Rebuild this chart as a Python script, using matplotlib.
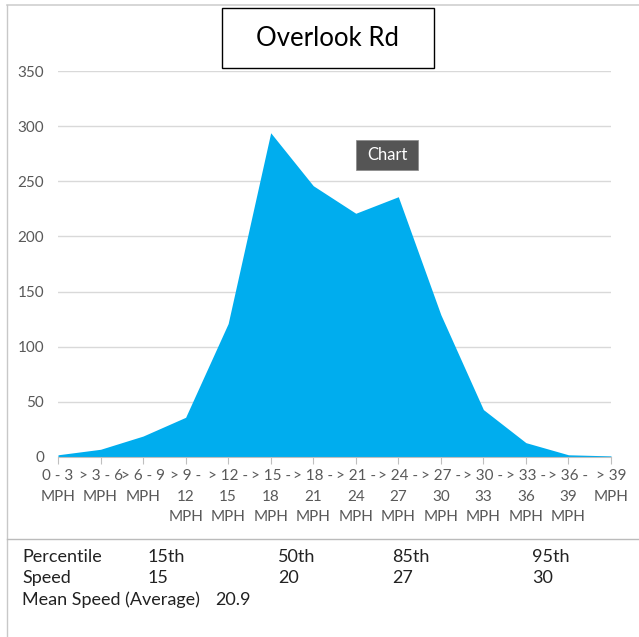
import matplotlib
matplotlib.use("Agg")
import matplotlib.pyplot as plt
from matplotlib.patches import Rectangle
from matplotlib.lines import Line2D

plt.rcParams['font.family'] = ['Lato', 'DejaVu Sans']

categories = ["0 - 3\nMPH", "> 3 - 6\nMPH", "> 6 - 9\nMPH", "> 9 -\n12\nMPH",
              "> 12 -\n15\nMPH", "> 15 -\n18\nMPH", "> 18 -\n21\nMPH", "> 21 -\n24\nMPH",
              "> 24 -\n27\nMPH", "> 27 -\n30\nMPH", "> 30 -\n33\nMPH", "> 33 -\n36\nMPH",
              "> 36 -\n39\nMPH", "> 39\nMPH"]
counts = [2, 7, 19, 36, 121, 294, 246, 221, 236, 129, 43, 13, 2, 1]
yticks = [0, 50, 100, 150, 200, 250, 300, 350]
title = "Overlook Rd"
percentiles = ["15th", "50th", "85th", "95th"]
speeds = ["15", "20", "27", "30"]
mean_speed = "20.9"

W, H = 639, 637
fig = plt.figure(figsize=(W / 100, H / 100), dpi=100)

def fx(px):
    return px / W

def fy(py):
    return 1 - py / H

ax = fig.add_axes([fx(58), fy(457), fx(611) - fx(58), fy(71) - fy(457)])
x = list(range(len(categories)))
ax.fill_between(x, counts, 0, color="#00ADEE", linewidth=0)
ax.set_xlim(0, len(categories) - 1)
ax.set_ylim(0, 350)
ax.set_yticks(yticks)
ax.set_yticklabels([str(v) for v in yticks], color="#595959", fontsize=11)
ax.yaxis.grid(True, color="#D9D9D9", linewidth=1)
ax.set_axisbelow(True)
ax.tick_params(axis='y', length=0, pad=10)
ax.set_xticks(x)
ax.set_xticklabels(categories, color="#595959", fontsize=11, linespacing=1.55, va='top')
ax.tick_params(axis='x', length=5, color="#BFBFBF", pad=4)
for s in ["top", "right", "left"]:
    ax.spines[s].set_visible(False)
ax.spines["bottom"].set_color("#BFBFBF")

# Frame lines
fig.add_artist(Line2D([fx(7), 1], [fy(5), fy(5)], color="#D0D0D0", lw=1.2))
fig.add_artist(Line2D([fx(7), fx(7)], [fy(5), 0], color="#C8C8C8", lw=1.0))
fig.add_artist(Line2D([fx(7), 1], [fy(539), fy(539)], color="#BBBBBB", lw=1.0))

# Title box
fig.add_artist(Rectangle((fx(222), fy(68)), fx(434) - fx(222), fy(8) - fy(68),
                         transform=fig.transFigure, facecolor="white",
                         edgecolor="black", lw=1.0))
fig.text(fx(328), fy(38), title, ha='center', va='center', fontsize=18.5, color="black")

# Tooltip
fig.add_artist(Rectangle((fx(356), fy(170)), fx(418) - fx(356), fy(140) - fy(170),
                         transform=fig.transFigure, facecolor="#555555",
                         edgecolor="#888888", lw=0.5))
fig.text(fx(387), fy(155), "Chart", ha='center', va='center', fontsize=12, color="white")

# Table
tc = "#222222"
fs = 13
fig.text(fx(22), fy(557), "Percentile", ha='left', va='center', fontsize=fs, color=tc)
fig.text(fx(22), fy(578), "Speed", ha='left', va='center', fontsize=fs, color=tc)
fig.text(fx(22), fy(600), "Mean Speed (Average)", ha='left', va='center', fontsize=fs, color=tc)
cols = [148, 278, 392, 532]
for cx, p, s in zip(cols, percentiles, speeds):
    fig.text(fx(cx), fy(557), p, ha='left', va='center', fontsize=fs, color=tc)
    fig.text(fx(cx), fy(578), s, ha='left', va='center', fontsize=fs, color=tc)
fig.text(fx(215), fy(600), mean_speed, ha='left', va='center', fontsize=fs, color=tc)

fig.savefig("out.png", dpi=100, facecolor="white")
